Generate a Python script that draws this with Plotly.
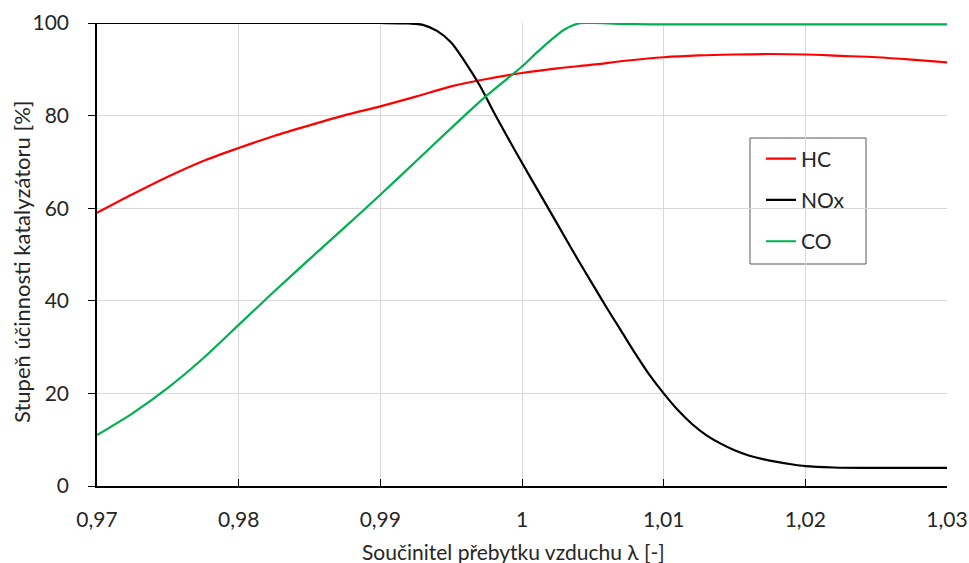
import plotly.graph_objects as go

# ---- data ----
hc_x = [0.970, 0.9725, 0.975, 0.9775, 0.980, 0.9825, 0.985, 0.9875, 0.990, 0.9925,
        0.995, 0.9975, 1.000, 1.0025, 1.005, 1.0075, 1.010, 1.0125, 1.015, 1.0175,
        1.020, 1.0225, 1.025, 1.0275, 1.030]
hc_y = [59.0, 63.0, 66.8, 70.2, 73.0, 75.6, 77.9, 80.1, 82.0, 84.1,
        86.3, 87.9, 89.2, 90.2, 91.0, 91.9, 92.6, 93.0, 93.2, 93.3,
        93.2, 92.9, 92.6, 92.1, 91.5]

nox_x = [0.970, 0.980, 0.990, 0.992, 0.993, 0.994, 0.995, 0.996, 0.997, 0.998,
         0.999, 1.000, 1.001, 1.002, 1.003, 1.004, 1.005, 1.006, 1.007, 1.008,
         1.009, 1.010, 1.011, 1.012, 1.013, 1.014, 1.015, 1.016, 1.017, 1.018,
         1.019, 1.020, 1.022, 1.024, 1.030]
nox_y = [100.0, 100.0, 100.0, 99.9, 99.6, 98.3, 95.8, 91.5, 86.6, 80.8,
         75.2, 69.8, 64.5, 59.2, 53.9, 48.6, 43.5, 38.4, 33.5, 28.6,
         24.0, 20.0, 16.4, 13.4, 11.0, 9.2, 7.7, 6.6, 5.8, 5.2,
         4.7, 4.3, 4.0, 3.9, 3.9]

co_x = [0.970, 0.9725, 0.975, 0.9775, 0.980, 0.9825, 0.985, 0.9875, 0.990, 0.9925,
        0.995, 0.9975, 1.000, 1.001, 1.002, 1.003, 1.004, 1.005, 1.007, 1.010,
        1.020, 1.030]
co_y = [11.0, 15.7, 21.2, 27.6, 34.8, 42.0, 49.0, 55.9, 62.9, 70.1,
        77.3, 84.3, 90.6, 93.5, 96.2, 98.6, 99.9, 100.0, 99.8, 99.7,
        99.7, 99.7]

series_names = ["HC", "NOx", "CO"]
x_tickvals = [0.97, 0.98, 0.99, 1.00, 1.01, 1.02, 1.03]
x_ticktext = ["0,97", "0,98", "0,99", "1", "1,01", "1,02", "1,03"]
y_tickvals = [0, 20, 40, 60, 80, 100]
x_title = "Součinitel přebytku vzduchu λ [-]"
y_title = "Stupeň účinnosti katalyzátoru [%]"

FONT = "Lato"
TXT = "#262626"
GRID = "#d9d9d9"

# plot-area geometry (pixels)
W, H = 969, 563
L, R, T, B = 97, 22, 23, 77
PW, PH = W - L - R, H - T - B


def px_x(p):
    return (p - L) / PW


def px_y(p):
    return (H - B - p) / PH


fig = go.Figure()
for name, xs, ys, col, grp in [
    (series_names[0], hc_x, hc_y, "#ff0000", "a"),
    (series_names[1], nox_x, nox_y, "#000000", "b"),
    (series_names[2], co_x, co_y, "#00b050", "c"),
]:
    fig.add_trace(go.Scatter(
        x=xs, y=ys, mode="lines", name=name, legendgroup=grp,
        line=dict(color=col, width=2.2, shape="spline", smoothing=0.8),
    ))

# legend frame
fig.add_shape(type="rect", xref="paper", yref="paper",
              x0=px_x(750), x1=px_x(866), y0=px_y(264), y1=px_y(138),
              line=dict(color="#595959", width=1), fillcolor="white", layer="between")

fig.add_annotation(text=x_title, xref="paper", yref="paper",
                   x=px_x(513), y=px_y(551), xanchor="center", yanchor="middle",
                   showarrow=False, font=dict(family=FONT, size=21, color=TXT))
fig.add_annotation(text=y_title, xref="paper", yref="paper", textangle=-90,
                   x=px_x(21), y=px_y(262), xanchor="center", yanchor="middle",
                   showarrow=False, font=dict(family=FONT, size=22, color=TXT))

fig.update_layout(
    width=W, height=H,
    margin=dict(l=L, r=R, t=T, b=B, autoexpand=False),
    paper_bgcolor="white", plot_bgcolor="white",
    font=dict(family=FONT, size=21, color=TXT),
    showlegend=True,
    legend=dict(
        x=px_x(761), y=px_y(138.5), xanchor="left", yanchor="top",
        borderwidth=0, bgcolor="rgba(0,0,0,0)",
        font=dict(family=FONT, size=21, color=TXT),
        tracegroupgap=11, itemwidth=30,
    ),
)
fig.update_xaxes(
    range=[0.97, 1.03], tickvals=x_tickvals, ticktext=x_ticktext,
    showgrid=True, gridcolor=GRID, gridwidth=1,
    showline=True, linecolor="black", linewidth=1.5,
    ticks="inside", ticklen=7, tickcolor="black", tickwidth=1.2,
    ticklabelstandoff=14, automargin=False,
    zeroline=False,
)
fig.update_yaxes(
    range=[0, 100], tickvals=y_tickvals,
    showgrid=True, gridcolor=GRID, gridwidth=1,
    showline=True, linecolor="black", linewidth=1.5,
    ticks="outside", ticklen=7, tickcolor="black", tickwidth=1.2,
    ticklabelstandoff=15, automargin=False,
    zeroline=False,
)

fig.write_html(
    "out.html",
    config={"displayModeBar": False},
    post_script="document.body.style.margin='0';document.body.style.overflow='hidden';",
)
